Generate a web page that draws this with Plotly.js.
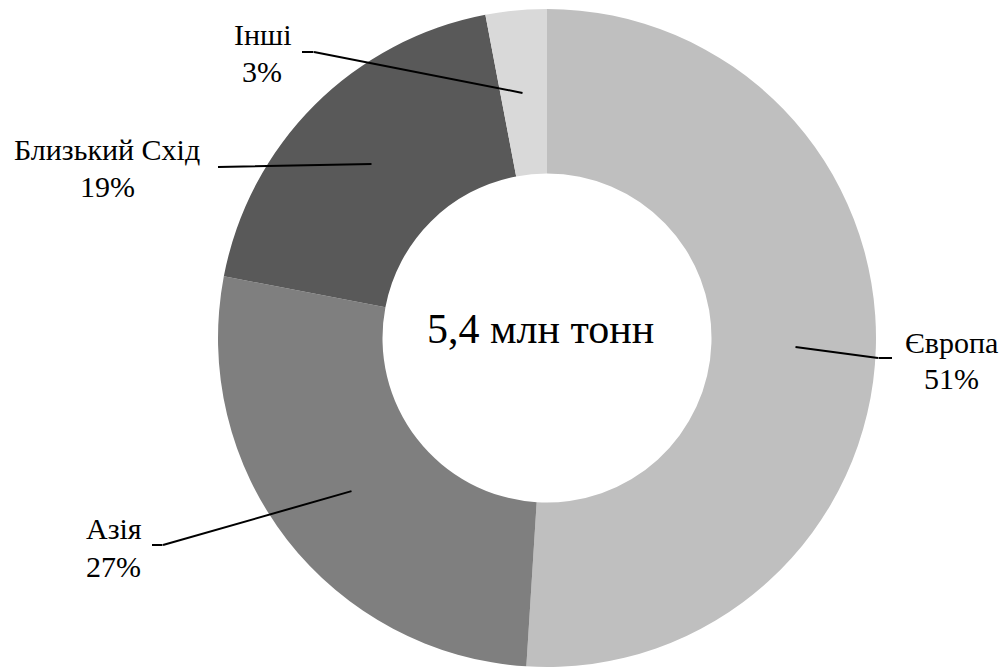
<!DOCTYPE html>
<html>
<head>
<meta charset="utf-8">
<script src="https://cdn.plot.ly/plotly-3.0.1.min.js"></script>
<style>
  html, body { margin: 0; padding: 0; background: #ffffff; }
  #chart { width: 1003px; height: 669px; }
</style>
</head>
<body>
<div id="chart"></div>
<script>
// Structure of shipments by region, share of total volume (%)
const regions = ['Європа', 'Азія', 'Близький Схід', 'Інші'];
const shares = [51, 27, 19, 3];
const sliceColors = ['#bfbfbf', '#7f7f7f', '#595959', '#d9d9d9'];
const totalLabel = '5,4 млн тонн';

const W = 1003, H = 669;
const fx = x => x / W;
const fy = y => 1 - y / H;

// Label anchor (px): x, vertical centres of the name and percent lines,
// and the leader line path (px) for each region
const labelPlacement = {
  'Європа':        { x: 951, anchor: 'center', yName: 342, yPct: 378, line: [[795, 347], [878, 358], [892, 358]] },
  'Азія':          { x: 84,  anchor: 'left',   yName: 528, yPct: 566, line: [[352, 491], [163, 545], [152, 545]] },
  'Близький Схід': { x: 107, anchor: 'center', yName: 149, yPct: 186, line: [[372, 164], [218, 167]] },
  'Інші':          { x: 262, anchor: 'center', yName: 34,  yPct: 71,  line: [[523, 93], [314, 52], [302, 52]] }
};

const trace = {
  type: 'pie',
  labels: regions,
  values: shares,
  sort: false,
  direction: 'clockwise',
  hole: 0.5,
  textinfo: 'none',
  marker: { colors: sliceColors, line: { width: 0 } },
  domain: { x: [fx(218), fx(876)], y: [fy(667), fy(9)] }
};

const annotations = [];
regions.forEach((r, i) => {
  const p = labelPlacement[r];
  [[r, p.yName], [shares[i] + '%', p.yPct]].forEach(([txt, yy]) => {
    annotations.push({
      xref: 'paper', yref: 'paper',
      x: fx(p.x), y: fy(yy),
      xanchor: p.anchor, yanchor: 'middle',
      text: txt,
      showarrow: false,
      font: { family: 'Liberation Serif', size: 30, color: '#000000' }
    });
  });
});

annotations.push({
  xref: 'paper', yref: 'paper',
  x: fx(540), y: fy(329),
  xanchor: 'center', yanchor: 'middle',
  text: totalLabel,
  showarrow: false,
  font: { family: 'Liberation Serif', size: 42, color: '#000000' }
});

// Leader lines: one headless arrow per segment
regions.forEach(r => {
  const pts = labelPlacement[r].line;
  for (let k = 1; k < pts.length; k++) {
    const a = pts[k - 1], b = pts[k];
    annotations.push({
      xref: 'paper', yref: 'paper',
      x: fx(b[0]), y: fy(b[1]),
      ax: a[0] - b[0], ay: a[1] - b[1],
      text: '',
      showarrow: true,
      arrowhead: 0,
      arrowwidth: 2,
      arrowcolor: '#000000',
      standoff: 0,
      startstandoff: 0,
      borderpad: 0
    });
  }
});

const layout = {
  width: W, height: H,
  margin: { l: 0, r: 0, t: 0, b: 0 },
  showlegend: false,
  annotations: annotations
};

Plotly.newPlot('chart', [trace], layout, { displayModeBar: false, staticPlot: true });
</script>
</body>
</html>
